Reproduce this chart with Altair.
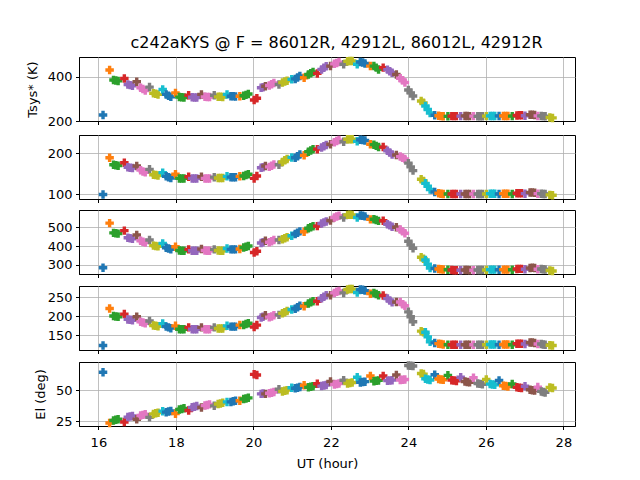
import altair as alt
import pandas as pd

# one entry per scan; colours follow the scan order through the tab10 cycle
ut = [
    [16.12], [16.29], [16.39, 16.45, 16.51], [16.67], [16.76, 16.82, 16.88],
    [16.99], [17.09, 17.15, 17.21], [17.32], [17.42, 17.48, 17.54], [17.66],
    [17.75, 17.81, 17.87], [17.99], [18.09, 18.15, 18.21], [18.33], [18.42, 18.48, 18.54],
    [18.66], [18.75, 18.81, 18.87], [18.99], [19.09, 19.15, 19.21], [19.32],
    [19.42, 19.48, 19.54], [19.65], [19.75, 19.81, 19.87], [20.02, 20.09],
    [20.20, 20.25], [20.31], [20.41, 20.47, 20.53], [20.66], [20.75, 20.81, 20.87],
    [20.99], [21.08, 21.14, 21.20], [21.31], [21.42, 21.48, 21.54], [21.65],
    [21.76, 21.82, 21.88], [21.99], [22.09, 22.15, 22.21], [22.33], [22.43, 22.49, 22.55],
    [22.68], [22.76, 22.82, 22.88], [23.02], [23.11, 23.17, 23.23], [23.35],
    [23.46, 23.52, 23.58], [23.69], [23.79, 23.85, 23.91], [24.00, 24.06, 24.12],
    [24.33, 24.39], [24.44, 24.50, 24.56], [24.68], [24.78, 24.84, 24.90], [25.02],
    [25.12, 25.18, 25.24], [25.35], [25.46, 25.52, 25.58], [25.68], [25.79, 25.85, 25.91],
    [26.01], [26.11, 26.17, 26.23], [26.34], [26.45, 26.51, 26.57], [26.68],
    [26.80, 26.86, 26.92], [27.01], [27.14, 27.20, 27.26], [27.34], [27.43, 27.48, 27.53],
    [27.65, 27.72],
]

tsys_86012R = [
    [227], [430], [385, 383, 381], [392], [365, 362, 359],
    [377], [350, 344, 338], [353], [325, 323, 320], [342],
    [320, 314, 309], [327], [308, 307, 306], [316], [307, 306, 306],
    [320], [309, 308, 308], [316], [309, 309, 308], [320],
    [312, 312, 311], [312], [314, 318, 322], [295, 303],
    [350, 352], [357], [360, 366, 372], [365], [374, 378, 382],
    [388], [390, 396, 403], [395], [410, 416, 421], [415],
    [433, 440, 447], [448], [458, 462, 466], [456], [470, 471, 471],
    [456], [466, 464, 460], [448], [448, 441, 433], [441],
    [432, 425, 418], [410], [393, 384, 374], [340, 327, 313],
    [290, 282], [268, 252, 236], [226], [224, 222, 221], [221],
    [222, 222, 222], [222], [223, 223, 222], [222], [221, 221, 221],
    [222], [223, 223, 223], [223], [223, 223, 223], [222],
    [225, 226, 226], [224], [228, 228, 227], [223], [223, 222, 221],
    [216, 214],
]

tsys_42912L = [
    [100], [189], [172, 171, 170], [177], [166, 165, 164],
    [169], [159, 156, 154], [161], [148, 147, 146], [153],
    [144, 142, 140], [149], [139, 139, 139], [143], [139, 139, 139],
    [143], [139, 139, 139], [142], [140, 140, 140], [144],
    [142, 142, 142], [144], [145, 147, 149], [139, 145],
    [165, 166], [169], [167, 170, 173], [172], [179, 183, 186],
    [190], [189, 193, 197], [195], [204, 207, 210], [210],
    [214, 217, 220], [222], [227, 230, 232], [228], [234, 234, 234],
    [229], [233, 232, 231], [222], [221, 218, 215], [215],
    [206, 202, 197], [196], [192, 189, 186], [176, 167, 158],
    [137, 133], [127, 120, 112], [106], [103, 102, 101], [101],
    [101, 101, 101], [101], [101, 101, 101], [101], [101, 101, 101],
    [101], [102, 102, 102], [101], [102, 102, 102], [101],
    [103, 103, 103], [102], [105, 105, 104], [102], [102, 101, 101],
    [99, 98],
]

tsys_86012L = [
    [284], [522], [470, 468, 466], [482], [444, 441, 438],
    [459], [428, 423, 418], [432], [402, 400, 398], [414],
    [391, 387, 383], [396], [376, 375, 375], [382], [375, 375, 375],
    [384], [376, 375, 375], [382], [376, 375, 375], [387],
    [382, 382, 382], [384], [392, 396, 400], [365, 372],
    [416, 420], [428], [420, 425, 432], [432], [436, 441, 447],
    [455], [464, 471, 478], [476], [495, 500, 505], [506],
    [520, 526, 531], [536], [552, 557, 561], [552], [566, 567, 566],
    [552], [563, 561, 558], [542], [543, 539, 534], [535],
    [516, 510, 503], [500], [488, 478, 468], [425, 406, 388],
    [340, 332], [325, 303, 283], [280], [277, 276, 275], [273],
    [272, 271, 271], [271], [272, 272, 271], [271], [272, 272, 272],
    [272], [274, 274, 274], [273], [274, 274, 274], [273],
    [277, 278, 278], [276], [283, 284, 283], [276], [277, 276, 275],
    [269, 267],
]

tsys_42912R = [
    [123], [221], [201, 200, 199], [206], [192, 191, 190],
    [199], [186, 184, 182], [188], [176, 175, 174], [181],
    [173, 171, 169], [175], [166, 166, 166], [171], [166, 166, 166],
    [171], [166, 166, 166], [171], [168, 168, 168], [175],
    [173, 173, 173], [177], [177, 180, 182], [172, 177],
    [197, 199], [203], [198, 200, 203], [204], [208, 211, 214],
    [218], [220, 224, 228], [227], [234, 237, 240], [240],
    [248, 252, 256], [256], [262, 265, 267], [262], [271, 272, 272],
    [263], [271, 270, 268], [260], [262, 259, 256], [255],
    [247, 242, 237], [238], [238, 232, 228], [212, 199, 186],
    [161, 158], [158, 146, 133], [130], [128, 127, 126], [125],
    [125, 125, 125], [125], [125, 125, 125], [125], [125, 125, 125],
    [125], [126, 126, 126], [125], [126, 126, 126], [125],
    [128, 128, 128], [127], [131, 131, 130], [127], [127, 126, 125],
    [124, 123],
]

elevation = [
    [64.5], [23.4], [25.5, 26.0, 26.5], [24.2], [28.2, 28.7, 29.2],
    [26.5], [29.5, 30.0, 30.5], [28.0], [30.8, 31.3, 31.8], [33.0],
    [32.2, 32.7, 33.2], [31.0], [34.3, 34.8, 35.3], [33.5], [36.1, 36.6, 37.1],
    [36.0], [37.5, 38.0, 38.5], [37.3], [38.8, 39.3, 39.8], [40.5],
    [40.5, 41.0, 41.5], [41.4], [42.8, 43.3, 43.8], [62.8, 62.3],
    [47.0, 47.4], [47.0], [47.5, 48.0, 48.5], [50.8], [49.0, 49.5, 50.0],
    [52.0], [51.5, 52.0, 52.5], [54.0], [52.3, 52.7, 53.1], [55.2],
    [53.3, 53.7, 54.1], [57.0], [54.6, 55.0, 55.4], [58.0], [55.4, 55.8, 56.2],
    [60.5], [56.3, 56.6, 56.9], [61.5], [57.3, 57.6, 57.9], [61.5],
    [57.7, 57.9, 58.1], [62.3], [58.2, 58.4, 58.6], [70.0, 69.8, 69.6],
    [63.5, 63.0], [59.2, 58.7, 58.2], [62.5], [59.0, 58.7, 58.4], [62.0],
    [58.1, 57.8, 57.5], [60.5], [57.0, 56.7, 56.4], [60.0], [55.4, 55.1, 54.8],
    [58.7], [54.9, 54.6, 54.3], [57.8], [53.6, 53.3, 53.0], [55.0],
    [52.3, 52.0, 51.7], [53.2], [50.3, 50.0, 49.7], [52.5], [49.0, 48.6, 48.2],
    [52.2, 51.8],
]

tab10 = ["#1f77b4", "#ff7f0e", "#2ca02c", "#d62728", "#9467bd",
         "#8c564b", "#e377c2", "#7f7f7f", "#bcbd22", "#17becf"]

rows = []
for scan, times in enumerate(ut):
    for k, t in enumerate(times):
        rows.append({
            "ut": t,
            "scan": scan,
            "cidx": scan % 10,
            "p1": tsys_86012R[scan][k],
            "p2": tsys_42912L[scan][k],
            "p3": tsys_86012L[scan][k],
            "p4": tsys_42912R[scan][k],
            "el": elevation[scan][k],
        })
df = pd.DataFrame(rows)

FONT = "DejaVu Sans"
FS = 13
W, H = 496, 64


def panel(field, ytitle, yticks, ydomain, bottom=False):
    if bottom:
        xaxis = alt.Axis(values=list(range(16, 29, 2)), grid=True, labelFontSize=FS,
                         titleFontSize=FS, labelPadding=7, titlePadding=8)
    else:
        xaxis = alt.Axis(values=list(range(16, 29, 2)), labels=False, grid=True)
    return alt.Chart(df).mark_point(shape="cross", filled=True, size=72, opacity=1).encode(
        x=alt.X("ut:Q", scale=alt.Scale(domain=[15.50, 28.30], nice=False, zero=False),
                axis=xaxis, title="UT (hour)" if bottom else None),
        y=alt.Y(f"{field}:Q", scale=alt.Scale(domain=ydomain, nice=False, zero=False),
                axis=alt.Axis(values=yticks, grid=True, labelFontSize=FS, titleFontSize=FS,
                              titlePadding=8),
                title=ytitle),
        color=alt.Color("cidx:N", scale=alt.Scale(domain=list(range(10)), range=tab10), legend=None),
        order=alt.Order("scan:Q"),
    ).properties(width=W, height=H)


panels = [
    panel("p1", "Tsys* (K)", [200, 400], [200, 489]),
    panel("p2", None, [100, 200], [89, 244.4]),
    panel("p3", None, [300, 400, 500], [250.7, 592]),
    panel("p4", None, [150, 200, 250], [111.3, 280.2]),
    panel("el", "El (deg)", [25, 50], [21.0, 72.8], bottom=True),
]

chart = alt.vconcat(*panels, spacing=5.0).properties(
    title=alt.TitleParams("c242aKYS @ F = 86012R, 42912L, 86012L, 42912R",
                          font=FONT, fontSize=16, fontWeight="normal", anchor="middle",
                          offset=5, dx=36),
    padding={"left": 17, "top": 27, "right": 5, "bottom": 5},
).configure_view(stroke="black", strokeWidth=1).configure_axis(
    labelFont=FONT, titleFont=FONT, titleFontWeight="normal",
    labelColor="black", titleColor="black",
    domainColor="black", domainWidth=1, tickColor="black", tickWidth=1, tickSize=3.5,
    labelPadding=3.5, titlePadding=6,
    gridColor="#b0b0b0", gridWidth=0.8,
)

chart.save("out.html", embed_options={"renderer": "svg", "actions": False})
